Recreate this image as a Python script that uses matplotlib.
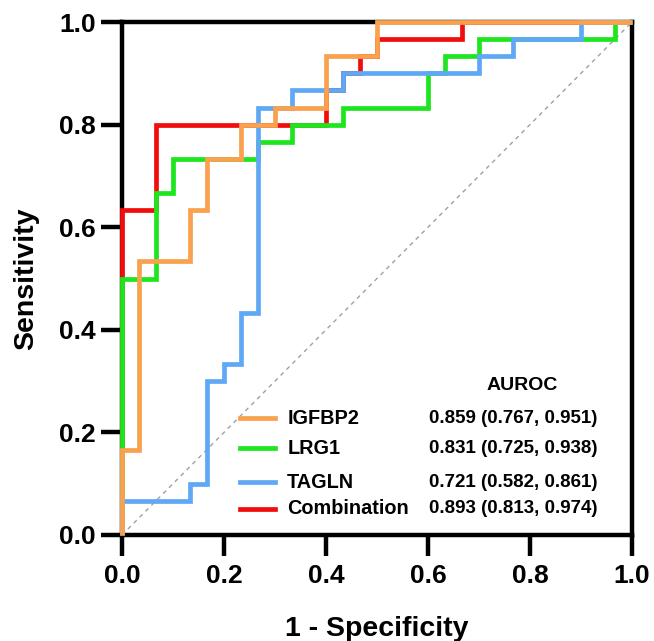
import numpy as np
import matplotlib
matplotlib.use("Agg")
import matplotlib.pyplot as plt
from matplotlib.lines import Line2D

# =====================================================================
# ROC staircase vertices (counts out of 30 negatives / 30 positives)
# =====================================================================

n_neg = 30
n_pos = 30

igfbp2_fp = [0, 0, 1, 1, 4, 4, 5, 5, 7, 7, 9, 9, 12, 12, 15, 15, 30]
igfbp2_tp = [0, 5, 5, 16, 16, 19, 19, 22, 22, 24, 24, 25, 25, 28, 28, 30, 30]

lrg1_fp = [0, 0, 2, 2, 3, 3, 8, 8, 10, 10, 13, 13, 18, 18, 19, 19, 21, 21, 29, 29, 30]
lrg1_tp = [0, 15, 15, 20, 20, 22, 22, 23, 23, 24, 24, 25, 25, 27, 27, 28, 28, 29, 29, 30, 30]

tagln_fp = [0, 0, 4, 4, 5, 5, 6, 6, 7, 7, 8, 8, 10, 10, 13, 13, 21, 21, 23, 23, 27, 27, 30]
tagln_tp = [0, 2, 2, 3, 3, 9, 9, 10, 10, 13, 13, 25, 25, 26, 26, 27, 27, 28, 28, 29, 29, 30, 30]

comb_fp = [0, 0, 2, 2, 12, 12, 13, 13, 14, 14, 15, 15, 20, 20, 30]
comb_tp = [0, 19, 19, 24, 24, 26, 26, 27, 27, 28, 28, 29, 29, 30, 30]

names = ["IGFBP2", "LRG1", "TAGLN", "Combination"]
auroc_text = ["0.859 (0.767, 0.951)", "0.831 (0.725, 0.938)",
              "0.721 (0.582, 0.861)", "0.893 (0.813, 0.974)"]
colors = ["#F9A14E", "#1EE61E", "#5EA8F6", "#F20D0D"]

ticks = [0.0, 0.2, 0.4, 0.6, 0.8, 1.0]

# =====================================================================
# figure
# =====================================================================

plt.rcParams['font.family'] = ['Liberation Sans', 'DejaVu Sans']
plt.rcParams['font.weight'] = 'bold'

fig = plt.figure(figsize=(6.54, 6.41), dpi=100)
ax = fig.add_axes([122 / 654, (641 - 535) / 641, 510 / 654, 513 / 641])

ax.plot([0, 1], [0, 1], color="#A0A0A0", lw=1.0, ls=(0, (3, 3)), zorder=1)

curves = [
    (comb_fp, comb_tp, colors[3], 3),
    (lrg1_fp, lrg1_tp, colors[1], 4),
    (tagln_fp, tagln_tp, colors[2], 5),
    (igfbp2_fp, igfbp2_tp, colors[0], 6),
]
for fp, tp, c, z in curves:
    ax.plot(np.array(fp) / n_neg, np.array(tp) / n_pos, color=c, lw=3.4,
            solid_joinstyle='miter', solid_capstyle='butt', zorder=z, clip_on=False)

ax.set_xlim(0, 1)
ax.set_ylim(0, 1)
ax.set_xticks(ticks)
ax.set_yticks(ticks)
ax.set_xticklabels(["%.1f" % t for t in ticks])
ax.set_yticklabels(["%.1f" % t for t in ticks])
ax.tick_params(direction='out', length=15, width=3.2, labelsize=19, pad=6)
ax.tick_params(axis='y', pad=4)
for s in ax.spines.values():
    s.set_linewidth(3.2)

ax.set_xlabel("1 - Specificity", fontsize=20.5, fontweight='bold', labelpad=20)
ax.set_ylabel("Sensitivity", fontsize=20.5, fontweight='bold', labelpad=14)

# legend drawn by hand so AUROC column lines up
row_y = [0.228, 0.169, 0.103, 0.051]
for name, txt, c, y in zip(names, auroc_text, colors, row_y):
    ax.add_line(Line2D([0.231, 0.300], [y, y], color=c, lw=3.4,
                       transform=ax.transAxes, zorder=7))
    ax.text(0.324, y, name, transform=ax.transAxes, fontsize=14.3,
            fontweight='bold', va='center', ha='left')
    ax.text(0.602, y, txt, transform=ax.transAxes, fontsize=13.5,
            fontweight='bold', va='center', ha='left')
ax.text(0.785, 0.292, "AUROC", transform=ax.transAxes, fontsize=14,
        fontweight='bold', va='center', ha='center')

fig.savefig("out.png", dpi=100)
